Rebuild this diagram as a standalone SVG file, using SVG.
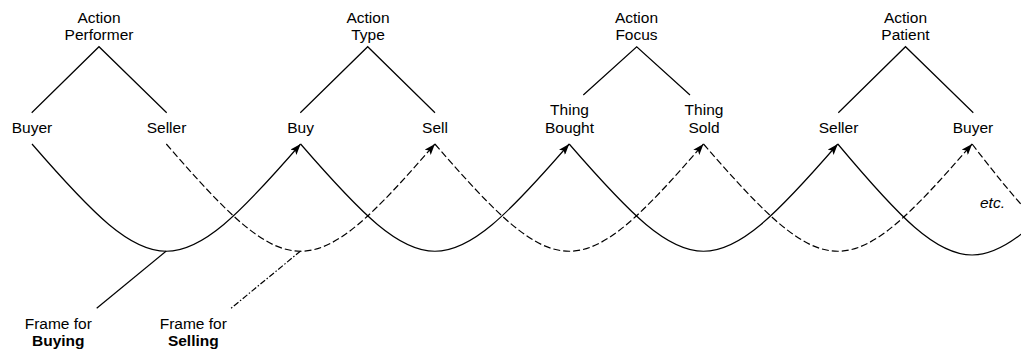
<svg xmlns="http://www.w3.org/2000/svg" width="1021" height="350" viewBox="0 0 1021 350">
<defs>
<marker id="arr" markerUnits="userSpaceOnUse" viewBox="0 0 11 8" markerWidth="11" markerHeight="8" refX="11" refY="4" orient="auto">
<path d="M0,0 L11,4 L0,8 L2.5,4 z" fill="#000"/>
</marker>
<style>
text{font-family:"Liberation Sans",Arial,sans-serif;font-size:15.5px;fill:#000;text-anchor:middle}
.b{font-weight:bold}
.i{font-style:italic}
.ln{fill:none;stroke:#000;stroke-width:1.2}
.d{stroke-dasharray:7 3}
.dd{stroke-dasharray:6 2 1.5 2}
</style>
</defs>
<rect width="1021" height="350" fill="#fff"/>
<g id="action-performer"><text x="99" y="22.7">Action</text><text x="99" y="39.5">Performer</text></g>
<g id="action-type"><text x="368" y="22.7">Action</text><text x="368" y="39.5">Type</text></g>
<g id="action-focus"><text x="636.5" y="22.7">Action</text><text x="636.5" y="39.5">Focus</text></g>
<g id="action-patient"><text x="905.5" y="22.7">Action</text><text x="905.5" y="39.5">Patient</text></g>
<g id="n-buyer1"><text x="32" y="132.7">Buyer</text></g>
<g id="n-seller1"><text x="166.5" y="132.7">Seller</text></g>
<g id="n-buy"><text x="300.6" y="132.7">Buy</text></g>
<g id="n-sell"><text x="435" y="132.7">Sell</text></g>
<g id="n-thing-bought"><text x="569.5" y="115">Thing</text><text x="569.5" y="132.7">Bought</text></g>
<g id="n-thing-sold"><text x="704" y="115">Thing</text><text x="704" y="132.7">Sold</text></g>
<g id="n-seller2"><text x="838.5" y="132.7">Seller</text></g>
<g id="n-buyer2"><text x="973" y="132.7">Buyer</text></g>
<g id="frame-buying"><text x="58.3" y="329">Frame for</text><text class="b" x="58.3" y="345.5">Buying</text></g>
<g id="frame-selling"><text x="193.3" y="329">Frame for</text><text class="b" x="193.3" y="345.5">Selling</text></g>
<g id="etc"><text class="i" x="992.5" y="208.3">etc.</text></g>
<g id="connectors">
<path class="ln" d="M31.7,112.7 L99,46.7 L166.7,112.7"/>
<path class="ln" d="M300.3,112.7 L367.7,46.7 L435,112.7"/>
<path class="ln" d="M583.3,95 L636.7,46.7 L690,95"/>
<path class="ln" d="M838.3,112.7 L905.5,46.7 L973.3,112.7"/>
<path class="ln" marker-end="url(#arr)" d="M32,144 C156,287 176.6,287 300.6,144"/>
<path class="ln" marker-end="url(#arr)" d="M300.6,144 C424.6,287 445.2,287 569.2,144"/>
<path class="ln" marker-end="url(#arr)" d="M569.2,144 C693.2,287 713.8,287 837.8,144"/>
<path class="ln" d="M837.8,144 C961.8,292 982.4,292 1106.4,144"/>
<path class="ln d" marker-end="url(#arr)" d="M166.3,144 C290.3,287 310.9,287 434.9,144"/>
<path class="ln d" marker-end="url(#arr)" d="M434.9,144 C558.9,287 579.5,287 703.5,144"/>
<path class="ln d" marker-end="url(#arr)" d="M703.5,144 C827.5,287 848.1,287 972.1,144"/>
<path class="ln d" d="M972.1,144 C1087.1,294 1113.7,294 1241.1,144"/>
<path class="ln" d="M166.3,251 L96.7,308.3"/>
<path class="ln dd" d="M300.6,251 L231,308.3"/>
</g>
</svg>
